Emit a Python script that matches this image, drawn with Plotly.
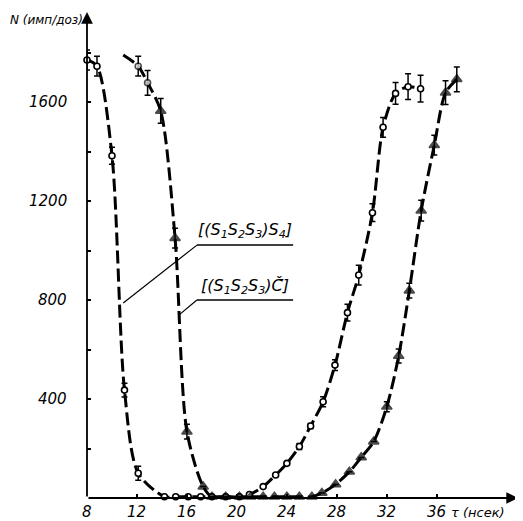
import plotly.graph_objects as go

# ---- data: curve [(S1S2S3)S4] (open circles) ----
s4_tau = [8.0, 8.8, 10.0, 11.0, 12.1, 14.2, 15.1, 16.1, 17.1, 18.0, 19.1, 20.2, 21.0, 22.1, 23.1,
          24.0, 25.0, 25.9, 26.9, 27.85, 28.85, 29.75, 30.85, 31.7, 32.7, 33.7, 34.7]
s4_N = [1770, 1745, 1383, 436, 100, 5, 5, 5, 5, 5, 5, 5, 14, 46, 93,
        140, 208, 291, 389, 537, 749, 901, 1153, 1498, 1635, 1662, 1654]
s4_err = [40, 40, 34, 28, 28, 0, 0, 0, 0, 0, 0, 0, 0, 0, 0,
          0, 12, 10, 20, 22, 34, 40, 36, 40, 44, 52, 54]

# ---- data: curve [(S1S2S3)C] (filled triangles) ----
c_tau = [10.9, 12.1, 12.85, 13.9, 15.05, 16.0, 17.3, 18.0, 19.1, 20.2, 21.1, 22.1, 23.0, 24.0, 25.0,
         26.0, 26.8, 27.9, 29.0, 29.95, 30.95, 32.0, 32.95, 33.8, 34.75, 35.8, 36.7, 37.6]
c_N = [1790, 1745, 1678, 1564, 1050, 268, 46, 5, 5, 5, 5, 5, 5, 5, 5,
       5, 20, 55, 106, 164, 228, 369, 574, 838, 1161, 1426, 1638, 1692]
c_err = [0, 40, 50, 50, 40, 30, 0, 0, 0, 0, 0, 0, 0, 0, 0,
         0, 0, 0, 0, 0, 0, 20, 28, 30, 42, 40, 48, 50]
c_kind = ["none", "o", "o", "t", "t", "t", "t", "t", "t", "t", "t", "t", "t", "t", "t",
          "t", "t", "t", "t", "t", "t", "t", "t", "t", "t", "t", "t", "t"]

x_ticks = [8, 12, 16, 20, 24, 28, 32, 36]
y_label_vals = [400, 800, 1200, 1600]
y_minor_vals = [200, 400, 600, 800, 1000, 1200, 1400, 1600, 1800]

X_MAX = 42.5
Y_MAX = 1964

FONT = "DejaVu Sans"
dash = "13px,5px"

# page body has an 8px default margin; figure is sized so it fills the window
W, H = 515, 513
L, R, T, B = 79, 5, 4, 23
PW, PH = W - L - R, H - T - B


def px(xp):  # target window pixel -> paper x
    return (xp - 8 - L) / PW


def py(yp):  # target window pixel -> paper y
    return (H - B - (yp - 8)) / PH


fig = go.Figure()

# curves
for tx, ty in ((s4_tau, s4_N), (c_tau, c_N)):
    fig.add_trace(go.Scatter(x=tx, y=ty, mode="lines",
                             line=dict(color="black", width=3, shape="spline", smoothing=0.8, dash=dash),
                             hoverinfo="skip", showlegend=False, cliponaxis=False))

# markers for S4 curve
fig.add_trace(go.Scatter(
    x=s4_tau, y=s4_N, mode="markers",
    marker=dict(symbol="circle", size=6, color="white", line=dict(color="black", width=1.6)),
    error_y=dict(type="data", array=s4_err, visible=True, color="black", thickness=1.5, width=3),
    showlegend=False, cliponaxis=False))

# markers for C curve
sym_map = {"o": "circle", "t": "triangle-up"}
idx = [i for i, k in enumerate(c_kind) if k != "none"]
fig.add_trace(go.Scatter(
    x=[c_tau[i] for i in idx], y=[c_N[i] for i in idx], mode="markers",
    marker=dict(symbol=[sym_map[c_kind[i]] for i in idx],
                size=[6 if c_kind[i] == "o" else 9 for i in idx],
                color=["white" if c_kind[i] == "o" else "black" for i in idx],
                line=dict(color="black", width=1.6)),
    error_y=dict(type="data", array=[c_err[i] for i in idx], visible=True, color="black",
                 thickness=1.5, width=3),
    showlegend=False, cliponaxis=False))

annotations = [
    # axis arrows
    dict(x=8, y=Y_MAX, ax=8, ay=0, xref="x", yref="y", axref="x", ayref="y", text="",
         showarrow=True, arrowhead=2, arrowsize=1.3, arrowwidth=1.8, arrowcolor="black"),
    dict(x=X_MAX, y=0, ax=8, ay=0, xref="x", yref="y", axref="x", ayref="y", text="",
         showarrow=True, arrowhead=2, arrowsize=1.3, arrowwidth=1.8, arrowcolor="black"),
    # axis titles
    dict(x=px(8), y=py(20), xref="paper", yref="paper", xanchor="left", yanchor="middle",
         text="<i>N (имп/доз)</i>", showarrow=False, font=dict(family=FONT, size=12, color="black")),
    dict(x=px(449), y=py(512), xref="paper", yref="paper", xanchor="left", yanchor="middle",
         text="<i>τ (нсек)</i>", showarrow=False, font=dict(family=FONT, size=13, color="black")),
    # curve labels
    dict(x=20.65, y=1083, xref="x", yref="y", xanchor="center", yanchor="middle",
         text="<i>[(S<sub>1</sub>S<sub>2</sub>S<sub>3</sub>)S<sub>4</sub>]</i>", showarrow=False,
         font=dict(family=FONT, size=16, color="black")),
    dict(x=20.65, y=853, xref="x", yref="y", xanchor="center", yanchor="middle",
         text="<i>[(S<sub>1</sub>S<sub>2</sub>S<sub>3</sub>)C\u030C\u0304]</i>", showarrow=False,
         font=dict(family=FONT, size=16, color="black")),
]
# x tick labels
for v in x_ticks:
    annotations.append(dict(x=v, y=py(512), xref="x", yref="paper", xanchor="center", yanchor="middle",
                            text=f"<i>{v}</i>", showarrow=False, font=dict(family=FONT, size=15, color="black")))
# y tick labels
for v in y_label_vals:
    annotations.append(dict(x=px(69), y=v, xref="paper", yref="y", xanchor="right", yanchor="middle",
                            text=f"<i>{v}</i>", showarrow=False, font=dict(family=FONT, size=15, color="black")))

shapes = [
    dict(type="line", xref="x", yref="y", x0=16.8, x1=24.5, y0=1022, y1=1022, line=dict(color="black", width=1.5)),
    dict(type="line", xref="x", yref="y", x0=16.8, x1=10.9, y0=1022, y1=788, line=dict(color="black", width=1.2)),
    dict(type="line", xref="x", yref="y", x0=16.8, x1=24.5, y0=800, y1=800, line=dict(color="black", width=1.5)),
    dict(type="line", xref="x", yref="y", x0=16.8, x1=15.35, y0=800, y1=739, line=dict(color="black", width=1.2)),
]

fig.update_layout(
    width=W, height=H,
    margin=dict(l=L, r=R, t=T, b=B, autoexpand=False),
    paper_bgcolor="white", plot_bgcolor="white",
    font=dict(family=FONT, color="black"),
    annotations=annotations, shapes=shapes,
    showlegend=False,
)
fig.update_xaxes(range=[8, X_MAX], tickvals=x_ticks, showticklabels=False, automargin=False,
                 ticks="inside", ticklen=4, tickwidth=1.5, tickcolor="black",
                 showgrid=False, zeroline=False, showline=False)
fig.update_yaxes(range=[0, Y_MAX], tickvals=y_minor_vals, showticklabels=False, automargin=False,
                 ticks="inside", ticklen=4, tickwidth=1.5, tickcolor="black",
                 showgrid=False, zeroline=False, showline=False)

fig.write_html("out.html")
